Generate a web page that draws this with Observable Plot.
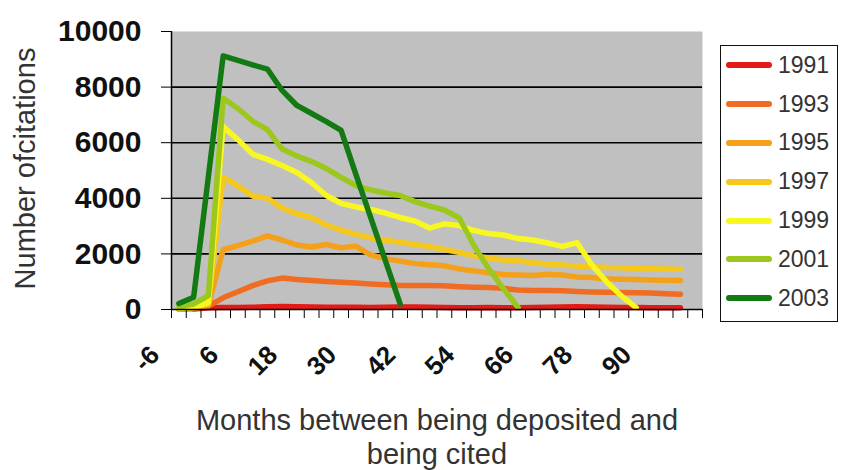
<!DOCTYPE html>
<html>
<head>
<meta charset="utf-8">
<script src="https://cdn.jsdelivr.net/npm/d3@7"></script>
<script src="https://cdn.jsdelivr.net/npm/@observablehq/plot@0.6"></script>
<style>
  html, body { margin: 0; padding: 0; background: #fff; }
  #chart { position: relative; width: 841px; height: 470px; overflow: hidden; font-family: "Liberation Sans", Arial, sans-serif; }
  #chart svg { position: absolute; left: 0; top: 0; }
  #legend { position: absolute; left: 720px; top: 45px; width: 118px; height: 277px; box-sizing: border-box; border: 1.5px solid #111; background: #fff; }
  .row { display: flex; align-items: center; height: 38.8px; }
  .sw { width: 46px; height: 6px; border-radius: 3px; margin-left: 5px; flex: none; }
  .lab { margin-left: 6px; font-size: 23px; color: #333; line-height: 1; }
</style>
</head>
<body>
<div id="chart"><div id="legend"></div></div>
<script>
// Category axis (months), 3-month steps
const categories = [-6,-3,0,3,6,9,12,15,18,21,24,27,30,33,36,39,42,45,48,51,54,57,60,63,66,69,72,75,78,81,84,87,90,93,96,99];
const tickLabels = [-6,6,18,30,42,54,66,78,90];
const years = ["1991","1993","1995","1997","1999","2001","2003"];
const colors = ["#e31a16","#f06c22","#f5a01a","#f5c81e","#f8f820","#9cc81e","#137a13"];

// Series values (number of citations), starting at month -6
const s1991 = [null,20,60,70,70,80,100,110,100,90,80,80,80,70,80,90,90,80,70,60,60,70,60,60,70,80,90,100,90,80,70,70,60,60,60];
const s1993 = [10,30,120,420,640,860,1030,1130,1080,1040,1010,980,950,920,890,860,860,860,850,820,800,790,760,700,680,680,670,650,630,620,610,600,590,570,550];
const s1995 = [20,50,150,2150,2300,2460,2650,2500,2320,2250,2340,2220,2280,1960,1830,1740,1650,1610,1570,1460,1390,1320,1260,1240,1220,1270,1240,1170,1150,1110,1090,1080,1060,1050,1040];
const s1997 = [30,70,200,4760,4450,4080,4000,3650,3440,3300,3040,2850,2700,2580,2490,2420,2340,2260,2160,2060,1930,1850,1780,1760,1680,1640,1600,1560,1540,1510,1500,1470,1470,1460,1450];
const s1999 = [50,80,250,6580,6110,5590,5400,5180,4930,4560,4100,3820,3690,3600,3470,3310,3180,2930,3080,3020,2840,2730,2680,2550,2500,2390,2270,2400,1600,1000,490,70];
const s2001 = [100,200,500,7600,7230,6780,6470,5770,5520,5320,5070,4750,4460,4300,4190,4100,3880,3720,3580,3300,2300,1470,750,70];
const s2003 = [215,440,4780,9120,8960,8800,8650,7880,7340,7050,6760,6440,4860,3310,1760,200];
const yTicks = [0,2000,4000,6000,8000,10000];
const gridValues = [2000,4000,6000,8000];

const seriesList = [s1991,s1993,s1995,s1997,s1999,s2001,s2003];
const rows = [];
seriesList.forEach((s, k) => {
  s.forEach((v, i) => { if (v != null) rows.push({year: years[k], month: categories[i], value: v}); });
});

const half = (categories[1] - categories[0]) / 2;
const boundaries = categories.map(c => c - half).concat([categories[categories.length - 1] + half]);

const chart = Plot.plot({
  width: 841,
  height: 470,
  marginLeft: 171,
  marginRight: 139,
  marginTop: 31,
  marginBottom: 161,
  style: {fontFamily: "'Liberation Sans', Arial, sans-serif", background: "transparent", overflow: "visible"},
  x: {domain: [boundaries[0], boundaries[boundaries.length - 1]]},
  y: {domain: [0, 10000]},
  color: {domain: years, range: colors},
  marks: [
    Plot.frame({fill: "#c0c0c0", stroke: "none"}),
    Plot.gridY(gridValues, {stroke: "#000", strokeOpacity: 1, strokeWidth: 1.6}),
    Plot.line(rows, {x: "month", y: "value", z: "year", stroke: "year", strokeWidth: 5.5, strokeLinejoin: "round", strokeLinecap: "round"}),
    Plot.ruleX([boundaries[0]], {stroke: "#000", strokeWidth: 1.5}),
    Plot.ruleY([0], {stroke: "#000", strokeWidth: 1.5}),
    Plot.axisY({ticks: yTicks, tickSize: 10, tickPadding: 20, tickFormat: "d", fontSize: 30, fontWeight: "bold", fill: "#111", stroke: "#000", label: null}),
    Plot.axisX({ticks: boundaries, tickSize: 9, tickFormat: () => "", stroke: "#000", label: null}),
    Plot.text(tickLabels, {x: d => d, frameAnchor: "bottom", rotate: -45, textAnchor: "end", dx: -18, dy: 47, fontSize: 26, fontWeight: "bold", fill: "#111"}),
    Plot.text(["Number ofcitations"], {frameAnchor: "left", textAnchor: "middle", rotate: -90, lineAnchor: "bottom", dx: -137, dy: -2, fontSize: 29, fill: "#333"}),
    Plot.text(["Months between being deposited and\nbeing cited"], {frameAnchor: "bottom", lineAnchor: "top", lineHeight: 1.17, dy: 96, fontSize: 29, fill: "#333"})
  ]
});

const wrap = document.getElementById("chart");
wrap.insertBefore(chart, wrap.firstChild);

const legend = document.getElementById("legend");
years.forEach((y, i) => {
  const row = document.createElement("div");
  row.className = "row";
  const sw = document.createElement("div");
  sw.className = "sw";
  sw.style.background = colors[i];
  const lab = document.createElement("span");
  lab.className = "lab";
  lab.textContent = y;
  row.appendChild(sw);
  row.appendChild(lab);
  legend.appendChild(row);
});
</script>
</body>
</html>
